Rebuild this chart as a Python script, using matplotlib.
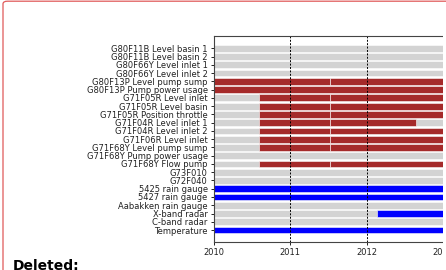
import matplotlib
matplotlib.use("Agg")
import matplotlib.pyplot as plt
from matplotlib.patches import FancyBboxPatch, Rectangle

# Row labels, top to bottom
labels = [
    "G80F11B Level basin 1",
    "G80F11B Level basin 2",
    "G80F66Y Level inlet 1",
    "G80F66Y Level inlet 2",
    "G80F13P Level pump sump",
    "G80F13P Pump power usage",
    "G71F05R Level inlet",
    "G71F05R Level basin",
    "G71F05R Position throttle",
    "G71F04R Level inlet 1",
    "G71F04R Level inlet 2",
    "G71F06R Level inlet",
    "G71F68Y Level pump sump",
    "G71F68Y Pump power usage",
    "G71F68Y Flow pump",
    "G73F010",
    "G72F040",
    "5425 rain gauge",
    "5427 rain gauge",
    "Aabakken rain gauge",
    "X-band radar",
    "C-band radar",
    "Temperature",
]

# Sewer sensors with data (red); a gap marks a break in the record
red_rows = ["G80F13P Level pump sump", "G80F13P Pump power usage",
            "G71F05R Level inlet", "G71F05R Level basin",
            "G71F05R Position throttle", "G71F04R Level inlet 1",
            "G71F04R Level inlet 2", "G71F06R Level inlet",
            "G71F68Y Level pump sump", "G71F68Y Flow pump"]
red_start = [2010.0, 2010.0, 2010.59, 2010.59, 2010.59, 2010.59,
             2010.59, 2010.59, 2010.59, 2010.59]
red_break = [2011.52, None, 2011.52, 2011.52, 2011.52, 2011.52,
             2011.52, 2011.52, 2011.52, 2011.52]
red_end = [2013.5, 2013.5, 2013.5, 2013.5, 2013.5, 2012.65,
           2013.5, 2013.5, 2013.5, 2013.5]

# Rain / weather data (blue)
blue_rows = ["5425 rain gauge", "5427 rain gauge", "X-band radar", "Temperature"]
blue_start = [2010.0, 2010.0, 2012.14, 2010.0]
blue_end = [2013.5, 2013.5, 2013.5, 2013.5]

years = [2010, 2011, 2012, 2013]

fig = plt.figure(figsize=(4.46, 2.70), dpi=100)
ax = fig.add_axes([214 / 446, 1 - 242 / 270, (443 - 214) / 446, 206 / 270])

h = 0.82
for i, lab in enumerate(labels):
    ax.barh(i, 3.5, left=2010, height=h, color="lightgray", edgecolor="white", linewidth=0.4)

for lab, s, b, e in zip(red_rows, red_start, red_break, red_end):
    i = labels.index(lab)
    if b is None:
        ax.barh(i, e - s, left=s, height=h, color="brown", edgecolor="white", linewidth=0.4)
    else:
        ax.barh(i, b - s, left=s, height=h, color="brown", edgecolor="white", linewidth=0.4)
        ax.barh(i, e - b, left=b, height=h, color="brown", edgecolor="white", linewidth=0.4)

for lab, s, e in zip(blue_rows, blue_start, blue_end):
    i = labels.index(lab)
    ax.barh(i, e - s, left=s, height=h, color="blue", edgecolor="white", linewidth=0.4)

for y in [2011, 2012]:
    ax.axvline(y, color="black", linestyle="--", linewidth=0.7, dashes=(2, 1.5))

ax.set_xlim(2010, 2013)
ax.set_ylim(22 + 1.45, -1.49)
ax.set_yticks(range(len(labels)))
ax.set_yticklabels(labels, fontsize=6, color="#222222")
ax.set_xticks(years)
ax.set_xticklabels([str(y) for y in years], fontsize=6, color="#222222")
ax.tick_params(length=2.5, width=0.6, pad=2)
ax.spines["right"].set_visible(False)
for sp in ["top", "left", "bottom"]:
    ax.spines[sp].set_linewidth(0.8)
    ax.spines[sp].set_color("#444444")

# page crop: white strip on the right edge
fig.patches.append(Rectangle((443 / 446, 0), 3 / 446, 1, transform=fig.transFigure,
                             facecolor="white", edgecolor="none", zorder=10))

# red rounded frame of the surrounding page element
fig.patches.append(FancyBboxPatch((3 / 446, -0.2), 1.2, 1.2 - 1.2 / 270,
                                  boxstyle="round,pad=0,rounding_size=0.01",
                                  transform=fig.transFigure, facecolor="none",
                                  edgecolor="#e05a5a", linewidth=0.9, zorder=11))

fig.text(13 / 446, 1 - 259 / 270, "Deleted:", fontsize=10, fontweight="bold",
         va="top", ha="left", color="black")

fig.savefig("out.png", dpi=100)
